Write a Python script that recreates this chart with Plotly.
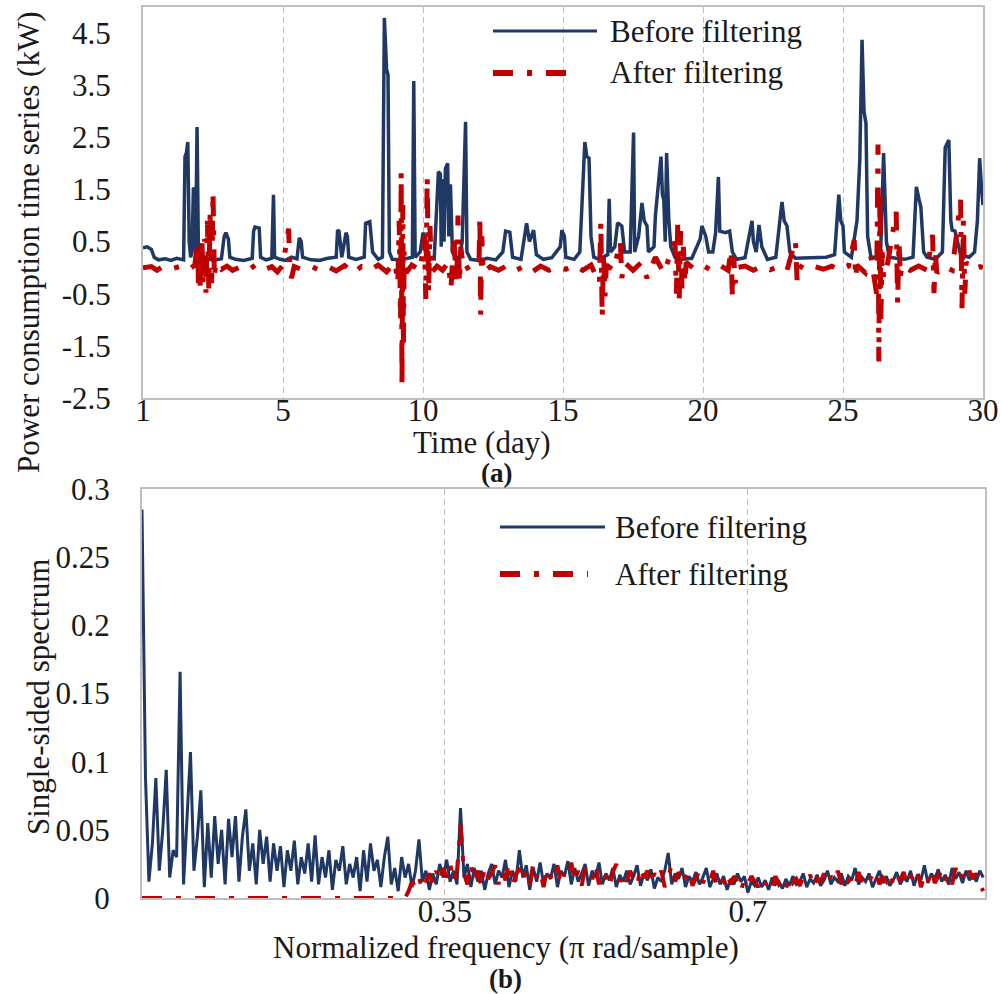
import numpy as np
import plotly.graph_objects as go

# ---------------- data: (a) power consumption time series ----------------
BEFORE_T = [0.0, 0.15, 0.3, 0.4, 0.55, 0.8, 1.0, 1.2, 1.45, 1.5, 1.55, 1.6, 1.65, 1.7, 1.75, 1.8,
            1.85, 1.88, 1.93, 1.98, 2.05, 2.3, 2.5, 2.8, 2.9, 2.96, 3.05, 3.1, 3.3, 3.6, 3.9, 3.95,
            4.0, 4.15, 4.2, 4.4, 4.6, 4.66, 4.7, 4.9, 5.1, 5.3, 5.5, 5.58, 5.65, 5.7, 6.0, 6.3,
            6.6, 6.9, 6.95, 7.0, 7.1, 7.25, 7.3, 7.35, 7.6, 7.9, 7.95, 8.1, 8.2, 8.4, 8.55, 8.62,
            8.7, 8.75, 8.8, 8.9, 9.2, 9.5, 9.62, 9.67, 9.72, 9.9, 10.0, 10.1, 10.2, 10.4, 10.55, 10.62,
            10.65, 10.7, 10.75, 10.8, 10.88, 10.92, 10.98, 11.05, 11.15, 11.3, 11.4, 11.52, 11.57, 11.7, 12.0, 12.3,
            12.6, 12.85, 12.95, 13.1, 13.2, 13.5, 13.7, 13.8, 13.95, 14.05, 14.3, 14.6, 14.9, 14.96, 15.05, 15.1,
            15.4, 15.6, 15.78, 15.85, 15.93, 16.0, 16.1, 16.3, 16.6, 16.65, 16.7, 16.85, 16.95, 17.1, 17.2, 17.4,
            17.52, 17.56, 17.7, 17.82, 17.9, 18.0, 18.05, 18.25, 18.3, 18.5, 18.55, 18.6, 18.65, 18.7, 18.78, 18.85,
            19.0, 19.3, 19.6, 19.9, 19.96, 20.1, 20.2, 20.35, 20.45, 20.55, 20.6, 20.8, 20.95, 21.05, 21.2, 21.5,
            21.75, 21.8, 21.9, 22.0, 22.1, 22.3, 22.6, 22.82, 22.9, 23.0, 23.1, 23.3, 23.6, 24.0, 24.4, 24.7,
            24.85, 24.92, 25.0, 25.05, 25.3, 25.5, 25.6, 25.68, 25.75, 25.82, 25.88, 26.0, 26.2, 26.35, 26.45, 26.55,
            26.65, 26.9, 27.2, 27.5, 27.62, 27.72, 27.78, 27.88, 28.0, 28.3, 28.55, 28.65, 28.78, 28.85, 28.9, 29.0,
            29.2, 29.5, 29.7, 29.8, 29.88, 29.95, 30.0]
BEFORE_V = [0.38, 0.4, 0.35, 0.2, 0.15, 0.17, 0.14, 0.18, 0.15, 2.13, 2.2, 2.41, 0.5, 0.2, 0.3, 1.53,
            1.5, 0.3, 2.7, 0.3, 0.15, 0.18, 0.14, 0.17, 0.6, 0.67, 0.55, 0.2, 0.16, 0.14, 0.18, 0.7,
            0.78, 0.76, 0.2, 0.15, 0.18, 1.4, 0.2, 0.16, 0.14, 0.2, 0.17, 0.57, 0.5, 0.2, 0.15, 0.14,
            0.18, 0.2, 0.72, 0.7, 0.2, 0.67, 0.6, 0.2, 0.16, 0.2, 0.85, 0.88, 0.3, 0.16, 0.2, 4.79,
            3.8, 3.7, 0.3, 0.16, 0.15, 0.19, 0.2, 3.58, 0.2, 0.3, 0.67, 0.55, 0.2, 0.17, 1.84, 1.8,
            0.4, 1.7, 0.5, 1.9, 2.0, 0.6, 1.6, 0.3, 0.2, 0.2, 0.5, 2.8, 0.3, 0.16, 0.14, 0.18,
            0.15, 0.3, 0.7, 0.68, 0.2, 0.16, 0.85, 0.5, 0.72, 0.25, 0.16, 0.19, 0.4, 0.72, 0.6, 0.2,
            0.16, 0.3, 2.41, 2.13, 2.1, 0.6, 0.2, 0.16, 0.25, 1.32, 0.3, 0.4, 0.86, 0.8, 0.3, 0.3,
            2.59, 0.3, 0.6, 1.24, 0.9, 0.8, 0.3, 0.4, 1.0, 2.13, 1.4, 1.3, 0.5, 2.2, 0.9, 0.4,
            0.2, 0.16, 0.18, 0.55, 0.8, 0.6, 0.3, 0.3, 0.67, 1.74, 0.7, 0.67, 0.7, 0.3, 0.16, 0.19,
            0.9, 0.5, 0.3, 0.82, 0.4, 0.16, 0.2, 1.26, 0.9, 0.8, 0.3, 0.18, 0.19, 0.2, 0.2, 0.25,
            1.4, 0.9, 0.8, 0.3, 0.2, 0.9, 2.07, 4.37, 3.0, 2.77, 0.6, 0.2, 0.2, 0.4, 2.2, 0.5,
            0.2, 0.18, 0.16, 0.2, 1.55, 1.3, 1.17, 0.3, 0.2, 0.16, 0.3, 2.3, 2.45, 0.9, 0.72, 0.7,
            0.25, 0.2, 0.3, 0.9, 2.1, 1.5, 1.2]

AFTER_T = [0.0, 0.3, 0.5, 0.7, 1.0, 1.3, 1.6, 1.85, 1.95, 1.98, 2.0, 2.05, 2.1, 2.15, 2.2, 2.25,
           2.3, 2.35, 2.4, 2.45, 2.5, 2.55, 2.6, 2.8, 3.0, 3.2, 3.5, 3.8, 4.0, 4.3, 4.6, 4.8,
           5.0, 5.15, 5.2, 5.25, 5.3, 5.4, 5.7, 6.0, 6.3, 6.6, 6.9, 7.2, 7.5, 7.8, 8.1, 8.4,
           8.7, 9.0, 9.1, 9.15, 9.2, 9.22, 9.25, 9.28, 9.3, 9.33, 9.4, 9.6, 9.9, 10.05, 10.1, 10.15,
           10.2, 10.25, 10.3, 10.5, 10.7, 10.9, 11.0, 11.1, 11.2, 11.25, 11.3, 11.35, 11.45, 11.7, 12.0, 12.03,
           12.06, 12.1, 12.15, 12.4, 12.7, 13.0, 13.3, 13.6, 13.9, 14.2, 14.5, 14.8, 15.1, 15.4, 15.7, 16.0,
           16.3, 16.35, 16.4, 16.45, 16.5, 16.55, 16.8, 17.05, 17.1, 17.2, 17.5, 17.8, 18.0, 18.3, 18.6, 19.0,
           19.05, 19.1, 19.15, 19.2, 19.25, 19.3, 19.35, 19.4, 19.7, 20.0, 20.3, 20.6, 20.9, 21.0, 21.05, 21.1,
           21.15, 21.2, 21.5, 21.8, 22.1, 22.4, 22.7, 23.0, 23.3, 23.36, 23.4, 23.7, 24.0, 24.3, 24.6, 24.9,
           25.2, 25.4, 25.45, 25.5, 25.8, 26.0, 26.2, 26.25, 26.28, 26.32, 26.35, 26.4, 26.45, 26.6, 26.9, 26.95,
           27.0, 27.05, 27.1, 27.4, 27.7, 28.0, 28.2, 28.25, 28.3, 28.35, 28.6, 28.9, 29.2, 29.25, 29.3, 29.35,
           29.4, 29.6, 29.9, 30.0]
AFTER_V = [0.0, 0.02, -0.05, 0.02, -0.03, 0.02, -0.05, 0.05, 0.5, -0.3, 0.4, -0.45, 0.6, -0.35, 0.55, -0.48,
           0.9, -0.4, 1.1, -0.3, 1.45, -0.2, 0.1, -0.03, 0.03, -0.05, 0.02, -0.04, 0.05, -0.05, 0.02, -0.08,
           0.05, 0.5, 0.75, 0.0, -0.2, 0.02, -0.04, 0.03, -0.05, 0.02, -0.06, 0.04, -0.1, 0.02, -0.05, 0.05,
           -0.08, 0.1, -0.3, 0.9, -1.0, 1.84, -2.3, 1.2, -1.5, 0.3, -0.1, 0.05, -0.05, 0.6, -0.6, 1.74,
           -0.5, 0.8, -0.1, 0.03, -0.05, 0.1, -0.4, 0.6, -0.35, 1.0, -0.3, 0.4, -0.05, 0.03, 0.05, 1.0,
           -0.9, 0.6, -0.1, 0.02, -0.05, 0.04, -0.06, 0.03, -0.08, 0.03, -0.05, 0.02, -0.03, 0.05, -0.05, 0.05,
           -0.3, 0.88, -0.96, 0.3, -0.55, 0.05, -0.05, 0.5, -0.2, 0.1, -0.05, 0.1, -0.2, 0.2, -0.1, 0.5,
           -0.5, 0.88, -0.65, 0.7, -0.4, 0.4, -0.3, 0.1, -0.03, 0.04, -0.05, 0.05, -0.05, 0.34, -0.56, 0.2,
           -0.3, 0.0, 0.03, -0.05, 0.03, -0.04, 0.02, -0.05, 0.53, -0.24, 0.05, -0.05, 0.02, -0.03, 0.03, -0.05,
           0.03, 0.53, -0.2, 0.05, -0.1, 0.2, -0.5, 2.36, -1.8, 1.5, -1.0, 0.3, -0.2, 0.1, 1.07, -0.68,
           0.5, -0.2, 0.05, -0.05, 0.03, -0.05, 0.63, -0.49, 0.3, -0.1, 0.03, -0.05, 1.3, -0.78, 0.9, -0.5,
           0.1, -0.03, 0.02, 0.0]

DAY_TICKS = [0, 5, 10, 15, 20, 25, 30]
DAY_LABELS = ["1", "5", "10", "15", "20", "25", "30"]
KW_TICKS = [-2.5, -1.5, -0.5, 0.5, 1.5, 2.5, 3.5, 4.5]
KW_LABELS = ["-2.5", "-1.5", "-0.5", "0.5", "1.5", "2.5", "3.5", "4.5"]

# ---------------- data: (b) single-sided spectrum ----------------
SPEC_BEFORE = [
    0.285, 0.089, 0.012, 0.04, 0.088, 0.02, 0.05, 0.094, 0.015, 0.035,
    0.03, 0.166, 0.01, 0.06, 0.107, 0.02, 0.045, 0.079, 0.008, 0.055,
    0.015, 0.06, 0.025, 0.05, 0.01, 0.058, 0.03, 0.06, 0.012, 0.045,
    0.065, 0.02, 0.04, 0.01, 0.05, 0.025, 0.045, 0.012, 0.04, 0.02,
    0.038, 0.008, 0.035, 0.02, 0.042, 0.01, 0.03, 0.018, 0.04, 0.012,
    0.046, 0.01, 0.03, 0.015, 0.035, 0.006, 0.028, 0.02, 0.038, 0.01,
    0.025, 0.015, 0.03, 0.005, 0.035, 0.012, 0.04, 0.02, 0.028, 0.008,
    0.03, 0.045, 0.01, 0.022, 0.005, 0.03, 0.015, 0.025, 0.008, 0.02,
    0.043, 0.012, 0.02, 0.006, 0.018, 0.01, 0.025, 0.015, 0.028, 0.012,
    0.02, 0.01, 0.066, 0.015, 0.025, 0.008, 0.022, 0.012, 0.02, 0.006,
    0.018, 0.025, 0.01, 0.02, 0.015, 0.028, 0.008, 0.02, 0.012, 0.035,
    0.015, 0.024, 0.006, 0.022, 0.012, 0.026, 0.01, 0.018, 0.014, 0.025,
    0.008, 0.02, 0.016, 0.027, 0.01, 0.022, 0.012, 0.018, 0.025, 0.009,
    0.02, 0.015, 0.026, 0.01, 0.018, 0.013, 0.022, 0.008, 0.017, 0.012,
    0.02, 0.01, 0.016, 0.024, 0.009, 0.018, 0.013, 0.021, 0.007, 0.015,
    0.012, 0.02, 0.033, 0.01, 0.018, 0.014, 0.022, 0.008, 0.016, 0.012,
    0.019, 0.01, 0.015, 0.022, 0.008, 0.014, 0.018, 0.01, 0.016, 0.006,
    0.014, 0.01, 0.018, 0.012, 0.016, 0.004, 0.012, 0.009, 0.015, 0.008,
    0.013, 0.006, 0.015, 0.01, 0.012, 0.007, 0.014, 0.009, 0.016, 0.01,
    0.012, 0.018, 0.008, 0.014, 0.011, 0.017, 0.009, 0.013, 0.02, 0.01,
    0.015, 0.012, 0.018, 0.009, 0.016, 0.013, 0.022, 0.01, 0.015, 0.012,
    0.018, 0.008, 0.014, 0.02, 0.011, 0.016, 0.009, 0.013, 0.019, 0.01,
    0.015, 0.012, 0.02, 0.009, 0.017, 0.013, 0.024, 0.011, 0.018, 0.014,
    0.021, 0.012, 0.017, 0.01, 0.022, 0.014, 0.019, 0.011, 0.02, 0.013,
    0.018, 0.012, 0.02, 0.015]
SPEC_AFTER = [
    0.0, 0.0, 0.0, 0.0, 0.0, 0.0, 0.0, 0.0, 0.0, 0.0,
    0.0, 0.0, 0.0, 0.0, 0.0, 0.0, 0.0, 0.0, 0.0, 0.0,
    0.0, 0.0, 0.0, 0.0, 0.0, 0.0, 0.0, 0.0, 0.0, 0.0,
    0.0, 0.0, 0.0, 0.0, 0.0, 0.0, 0.0, 0.0, 0.0, 0.0,
    0.0, 0.0, 0.0, 0.0, 0.0, 0.0, 0.0, 0.0, 0.0, 0.0,
    0.0, 0.0, 0.0, 0.0, 0.0, 0.0, 0.0, 0.0, 0.0, 0.0,
    0.0, 0.0, 0.0, 0.0, 0.0, 0.0, 0.0, 0.0, 0.0, 0.0,
    0.0, 0.0, 0.0, 0.0, 0.0, 0.0, 0.0, 0.005, 0.012, 0.008,
    0.015, 0.006, 0.012, 0.018, 0.01, 0.02, 0.012, 0.022, 0.015, 0.025,
    0.012, 0.02, 0.054, 0.018, 0.01, 0.025, 0.012, 0.02, 0.008, 0.022,
    0.014, 0.018, 0.024, 0.01, 0.02, 0.013, 0.026, 0.009, 0.017, 0.022,
    0.012, 0.02, 0.01, 0.025, 0.015, 0.02, 0.008, 0.022, 0.016, 0.012,
    0.024, 0.01, 0.018, 0.014, 0.026, 0.012, 0.02, 0.009, 0.022, 0.015,
    0.013, 0.024, 0.01, 0.02, 0.015, 0.008, 0.019, 0.025, 0.012, 0.018,
    0.012, 0.02, 0.014, 0.009, 0.022, 0.015, 0.02, 0.01, 0.018, 0.013,
    0.02, 0.008, 0.016, 0.024, 0.012, 0.019, 0.01, 0.015, 0.02, 0.009,
    0.014, 0.02, 0.011, 0.016, 0.012, 0.02, 0.009, 0.015, 0.012, 0.018,
    0.01, 0.016, 0.012, 0.005, 0.014, 0.01, 0.016, 0.012, 0.008, 0.015,
    0.01, 0.014, 0.008, 0.016, 0.01, 0.013, 0.007, 0.016, 0.011, 0.014,
    0.009, 0.015, 0.012, 0.017, 0.008, 0.014, 0.012, 0.018, 0.01, 0.016,
    0.012, 0.02, 0.01, 0.017, 0.012, 0.015, 0.009, 0.019, 0.012, 0.016,
    0.012, 0.017, 0.02, 0.01, 0.015, 0.012, 0.018, 0.009, 0.016, 0.013,
    0.019, 0.01, 0.016, 0.013, 0.02, 0.008, 0.017, 0.012, 0.021, 0.011,
    0.016, 0.02, 0.012, 0.018, 0.01, 0.022, 0.013, 0.017, 0.012, 0.02,
    0.014, 0.018, 0.01, 0.005]
FREQ_STEP = 0.004
FREQ = [round(i * FREQ_STEP, 4) for i in range(len(SPEC_BEFORE))]
FREQ_TICKS = [0.35, 0.7]
FREQ_LABELS = ["0.35", "0.7"]
SPEC_TICKS = [0, 0.05, 0.1, 0.15, 0.2, 0.25, 0.3]
SPEC_LABELS = ["0", "0.05", "0.1", "0.15", "0.2", "0.25", "0.3"]

assert len(BEFORE_T) == len(BEFORE_V)
assert len(AFTER_T) == len(AFTER_V)
assert len(SPEC_BEFORE) == len(SPEC_AFTER)

# ---------------- styling ----------------
W, H = 1002, 994
BLUE = "#203864"
RED = "#C00000"
FONT = "Liberation Serif"
TXT = "#1a1a1a"
FS = 31
DASHDOT = "20px,14px,5px,14px"
FRAME = "#BFBFBF"


def px(x):
    return x / W


def py(y):
    return 1 - y / H


fig = go.Figure()
fig.add_trace(go.Scatter(x=BEFORE_T, y=BEFORE_V, mode="lines", line=dict(color=BLUE, width=3.5),
                         xaxis="x", yaxis="y", showlegend=False))
fig.add_trace(go.Scatter(x=AFTER_T, y=AFTER_V, mode="lines", line=dict(color=RED, width=5, dash=DASHDOT),
                         xaxis="x", yaxis="y", showlegend=False))
fig.add_trace(go.Scatter(x=FREQ, y=SPEC_BEFORE, mode="lines", line=dict(color=BLUE, width=3),
                         xaxis="x2", yaxis="y2", showlegend=False))
fig.add_trace(go.Scatter(x=FREQ, y=SPEC_AFTER, mode="lines", line=dict(color=RED, width=4, dash=DASHDOT),
                         xaxis="x2", yaxis="y2", showlegend=False))

axis_common = dict(showline=True, mirror=True, linecolor=FRAME, linewidth=2, zeroline=False,
                   automargin=False, ticks="", tickfont=dict(family=FONT, size=FS, color=TXT))

fig.update_layout(
    width=W, height=H, autosize=False,
    margin=dict(l=0, r=0, t=0, b=0, autoexpand=False),
    paper_bgcolor="white", plot_bgcolor="white",
    font=dict(family=FONT, size=FS, color=TXT),
    xaxis=dict(domain=[px(143), px(983)], range=[0, 30], tickvals=DAY_TICKS, ticktext=DAY_LABELS,
               showgrid=True, gridcolor=FRAME, gridwidth=1, griddash="6px,4px", anchor="y",
               ticklabelstandoff=-16, **axis_common),
    yaxis=dict(domain=[py(398), py(7)], range=[-2.5, 5.0], tickvals=KW_TICKS, ticktext=KW_LABELS,
               showgrid=False, anchor="x", ticklabelstandoff=24, **axis_common),
    xaxis2=dict(domain=[px(142), px(985)], range=[0, 0.974], tickvals=FREQ_TICKS, ticktext=FREQ_LABELS,
                showgrid=True, gridcolor=FRAME, gridwidth=1, griddash="6px,4px", anchor="y2",
                ticklabelstandoff=-15, **axis_common),
    yaxis2=dict(domain=[py(898), py(489)], range=[0, 0.3], tickvals=SPEC_TICKS, ticktext=SPEC_LABELS,
                showgrid=False, anchor="x2", ticklabelstandoff=24, **axis_common),
)

shapes = []
annotations = []

# legend boxes (white, covering the gridlines) and samples
for (x0, x1, y0, y1) in [(470, 835, 9, 97), (490, 835, 502, 596)]:
    shapes.append(dict(type="rect", xref="paper", yref="paper", x0=px(x0), x1=px(x1), y0=py(y1), y1=py(y0),
                       fillcolor="white", line=dict(width=0), layer="between"))

for (lx0, lx1, ly, tx, label, color, dash, lw) in [
    (493, 597, 31, 608, "Before filtering", BLUE, "solid", 3),
    (493, 580, 73, 608, "After filtering", RED, DASHDOT, 6),
    (500, 605, 527, 613, "Before filtering", BLUE, "solid", 3),
    (500, 588, 574, 613, "After filtering", RED, DASHDOT, 6),
]:
    shapes.append(dict(type="line", xref="paper", yref="paper", x0=px(lx0), x1=px(lx1), y0=py(ly), y1=py(ly),
                       line=dict(color=color, width=lw, dash=dash)))
    annotations.append(dict(xref="paper", yref="paper", x=px(tx), y=py(ly), text=label, showarrow=False,
                            xanchor="left", yanchor="middle", font=dict(family=FONT, size=FS, color=TXT)))

# axis titles and panel labels
annotations += [
    dict(xref="paper", yref="paper", x=px(28), y=py(243), text="Power consumption time series (kW)",
         textangle=-90, showarrow=False, xanchor="center", yanchor="middle",
         font=dict(family=FONT, size=FS, color=TXT)),
    dict(xref="paper", yref="paper", x=px(482), y=py(442), text="Time (day)", showarrow=False,
         xanchor="center", yanchor="middle", font=dict(family=FONT, size=FS, color=TXT)),
    dict(xref="paper", yref="paper", x=px(496), y=py(473), text="<b>(a)</b>", showarrow=False,
         xanchor="center", yanchor="middle", font=dict(family=FONT, size=FS - 4, color=TXT)),
    dict(xref="paper", yref="paper", x=px(38), y=py(697), text="Single-sided spectrum",
         textangle=-90, showarrow=False, xanchor="center", yanchor="middle",
         font=dict(family=FONT, size=FS, color=TXT)),
    dict(xref="paper", yref="paper", x=px(506), y=py(947), text="Normalized frequency (π rad/sample)",
         showarrow=False, xanchor="center", yanchor="middle", font=dict(family=FONT, size=FS, color=TXT)),
    dict(xref="paper", yref="paper", x=px(505), y=py(979), text="<b>(b)</b>", showarrow=False,
         xanchor="center", yanchor="middle", font=dict(family=FONT, size=FS - 4, color=TXT)),
]

fig.update_layout(shapes=shapes, annotations=annotations)
fig.write_html("out.html")
